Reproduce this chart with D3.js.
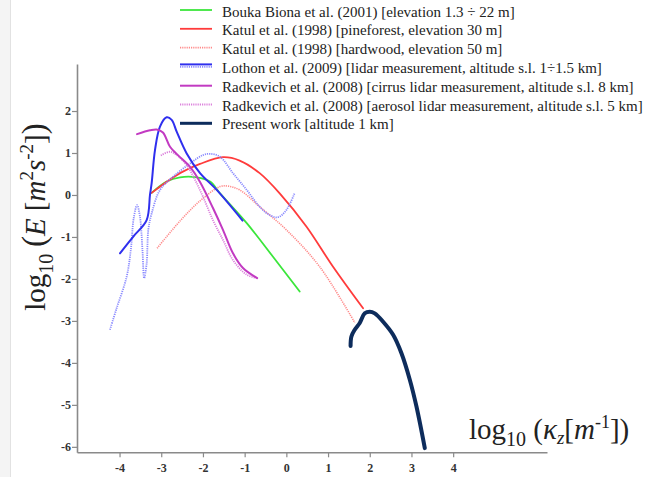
<!DOCTYPE html>
<html><head><meta charset="utf-8">
<script src="https://cdn.jsdelivr.net/npm/d3@7"></script>
<style>
html,body{margin:0;padding:0;background:#fff;}
svg{display:block;}
</style>
</head><body>
<svg id="chart" width="645" height="477"></svg>
<script>
// ---- data (log10 kz, log10 E) ----
const xTicks = [-4,-3,-2,-1,0,1,2,3,4];
const yTicks = [2,1,0,-1,-2,-3,-4,-5,-6];

const boukaX = [-3.23,-2.87,-2.55,-2.15,-1.83,-1.59,-0.95,-0.32,0.32];
const boukaY = [0.05,0.32,0.42,0.42,0.32,0.04,-0.67,-1.47,-2.30];

const katulPineX = [-3.23,-2.55,-2.07,-1.52,-1.12,-0.64,-0.16,0.48,1.12,1.84];
const katulPineY = [0.05,0.52,0.74,0.90,0.82,0.52,0.04,-0.75,-1.71,-2.70];

const katulHardX = [-3.10,-2.55,-2.07,-1.59,-1.40,-1.12,-0.64,0.00,0.80,1.64];
const katulHardY = [-1.27,-0.62,-0.14,0.20,0.21,0.12,-0.28,-0.83,-1.71,-3.04];

const lothonSolidX = [-3.99,-3.67,-3.35,-3.27,-3.23,-3.15,-3.03,-2.87,-2.75,-2.63,-2.39,-2.07,-1.67,-1.05];
const lothonSolidY = [-1.39,-0.99,-0.60,0.00,0.28,1.07,1.63,1.85,1.79,1.51,0.99,0.52,0.12,-0.61];

const lothonDotX = [-4.23,-4.07,-3.83,-3.73,-3.66,-3.58,-3.51,-3.45,-3.41,-3.35,-3.31,-3.23,-3.03,-2.71,-2.31,-2.00,-1.83,-1.59,-1.28,-0.95,-0.64,-0.40,-0.20,0.00,0.20];
const lothonDotY = [-3.21,-2.70,-1.95,-1.31,-0.55,-0.24,-0.52,-1.31,-1.98,-1.63,-0.83,-0.44,0.12,0.44,0.75,0.95,0.98,0.91,0.52,0.12,-0.28,-0.48,-0.53,-0.36,0.05];

const radCirrusX = [-3.58,-3.27,-3.11,-2.96,-2.79,-2.60,-2.31,-2.07,-1.76,-1.52,-1.28,-1.04,-0.70];
const radCirrusY = [1.45,1.54,1.56,1.49,1.15,0.95,0.67,0.31,-0.31,-0.83,-1.39,-1.74,-1.98];

const radAerosolX = [-3.01,-2.79,-2.63,-2.39,-2.19,-2.00,-1.76,-1.52,-1.28,-0.95,-0.71];
const radAerosolY = [0.94,1.03,0.95,0.71,0.36,-0.04,-0.60,-1.07,-1.55,-1.90,-1.98];

const presentX = [1.54,1.56,1.64,1.76,1.88,2.00,2.12,2.32,2.56,2.76,2.96,3.12,3.32];
const presentY = [-3.60,-3.37,-3.21,-3.05,-2.82,-2.78,-2.82,-3.02,-3.33,-3.77,-4.40,-5.04,-6.03];

const legendLabels = [
  "Bouka Biona et al. (2001) [elevation 1.3 \u00f7 22 m]",
  "Katul et al. (1998) [pineforest, elevation 30 m]",
  "Katul et al. (1998) [hardwood, elevation 50 m]",
  "Lothon et al. (2009) [lidar measurement, altitude s.l. 1\u00f71.5 km]",
  "Radkevich et al. (2008) [cirrus lidar measurement, altitude s.l. 8 km]",
  "Radkevich et al. (2008) [aerosol lidar measurement, altitude s.l. 5 km]",
  "Present work [altitude 1 km]"
];

// ---- styles ----
const series = [
  {x: boukaX, y: boukaY, color:"#3be63b", w:1.8, dash:null},
  {x: katulPineX, y: katulPineY, color:"#ff3b3b", w:1.8, dash:null},
  {x: katulHardX, y: katulHardY, color:"#ff8a8a", w:1.6, dash:"1.2,1"},
  {x: lothonDotX, y: lothonDotY, color:"#8a8aff", w:1.8, dash:"1.2,1"},
  {x: lothonSolidX, y: lothonSolidY, color:"#2f2fee", w:2, dash:null},
  {x: radAerosolX, y: radAerosolY, color:"#dc82dc", w:1.8, dash:"1.2,1"},
  {x: radCirrusX, y: radCirrusY, color:"#c23ac2", w:2, dash:null},
  {x: presentX, y: presentY, color:"#0d2c5c", w:4, dash:null}
];

const svg = d3.select("#chart");
svg.append("rect").attr("x",0).attr("y",0).attr("width",10).attr("height",477).attr("fill","#f4f4f4");
svg.append("line").attr("x1",10.5).attr("x2",10.5).attr("y1",0).attr("y2",477).attr("stroke","#e2e2e2");

const xS = d3.scaleLinear().domain([-5.02, 6.25]).range([77, 547]);
const yS = d3.scaleLinear().domain([-6.13, 3.12]).range([452.3, 64]);

const axisColor = "#8a8a8a";
const serif = "'Liberation Serif', 'Times New Roman', serif";

const gx = svg.append("g").attr("transform", `translate(0,${yS.range()[0]})`)
  .call(d3.axisBottom(xS).tickValues(xTicks).tickSize(5).tickSizeOuter(0).tickFormat(d3.format("d")));
const gy = svg.append("g").attr("transform", `translate(${xS.range()[0]},0)`)
  .call(d3.axisLeft(yS).tickValues(yTicks).tickSize(5).tickSizeOuter(0).tickFormat(d3.format("d")));
[gx, gy].forEach(g => {
  g.attr("font-family", serif);
  g.select(".domain").attr("stroke", axisColor).attr("stroke-width", 1.6);
  g.selectAll(".tick line").attr("stroke", axisColor).attr("stroke-width", 1.2);
  g.selectAll(".tick text").attr("fill","#333").attr("font-family", serif)
    .attr("font-size", 12).attr("font-weight","bold").text(d => d < 0 ? "-" + Math.abs(d) : d);
});
gx.selectAll(".tick text").attr("dy","0.95em");
gy.selectAll(".tick text").attr("x", -6);

// ---- curves ----
const line = d3.line().x(d => xS(d[0])).y(d => yS(d[1])).curve(d3.curveCatmullRom.alpha(0.5));
series.forEach(s => {
  const pts = s.x.map((v,i) => [v, s.y[i]]);
  svg.append("path").attr("d", line(pts)).attr("fill","none")
    .attr("stroke", s.color).attr("stroke-width", s.w)
    .attr("stroke-dasharray", s.dash).attr("stroke-linecap", s.dash ? "butt" : "round")
    .attr("stroke-linejoin","round");
});

// ---- legend ----
const legX0 = 180, legX1 = 212, legTextX = 222, legY0 = 11.5, legDY = 18.8;
const leg = svg.append("g");
legendLabels.forEach((lab, i) => {
  const cy = legY0 + i * legDY;
  leg.append("text").attr("x", legTextX).attr("y", cy + 5).text(lab)
    .attr("font-family", serif).attr("font-size", 15).attr("fill", "#222");
});
const sampleRows = [
  {row:0, s:0, off:-1.5},
  {row:1, s:1, off:-1.5},
  {row:2, s:2, off:-1.5},
  {row:3, s:4, off:-3.5},
  {row:3, s:3, off:-1},
  {row:4, s:6, off:-1},
  {row:5, s:5, off:-1},
  {row:6, s:7, off:-1}
];
sampleRows.forEach(r => {
  const s = series[r.s];
  const y = legY0 + r.row * legDY + r.off;
  leg.append("line").attr("x1", legX0).attr("x2", legX1).attr("y1", y).attr("y2", y)
    .attr("stroke", s.color).attr("stroke-width", Math.min(s.w, 3)).attr("stroke-dasharray", s.dash);
});

// ---- axis titles ----
const yt = svg.append("text").attr("transform","translate(45,217) rotate(-90)")
  .attr("text-anchor","middle").attr("font-family", serif).attr("font-size", 29).attr("fill","#222");
yt.append("tspan").text("log");
yt.append("tspan").attr("font-size", 20).attr("dy", 8).text("10");
yt.append("tspan").attr("dy", -8).attr("font-size", 33).text("\u2009(");
yt.append("tspan").attr("font-style","italic").text("E");
yt.append("tspan").text(" [");
yt.append("tspan").attr("font-style","italic").text("m");
yt.append("tspan").attr("font-size", 19).attr("dy", -12).text("2");
yt.append("tspan").attr("font-style","italic").attr("dy", 12).text("s");
yt.append("tspan").attr("font-size", 19).attr("dy", -12).text("-2");
yt.append("tspan").attr("dy", 12).text("]");
yt.append("tspan").attr("font-size", 33).text(")");

const xt = svg.append("text").attr("x", 469).attr("y", 439)
  .attr("font-family", serif).attr("font-size", 29).attr("fill","#222");
xt.append("tspan").text("log");
xt.append("tspan").attr("font-size", 20).attr("dy", 7).text("10");
xt.append("tspan").attr("dy", -7).text(" (");
xt.append("tspan").attr("font-style","italic").text("\u03ba");
xt.append("tspan").attr("font-style","italic").attr("font-size", 19).attr("dy", 5).text("z");
xt.append("tspan").attr("dy", -5).text("[");
xt.append("tspan").attr("font-style","italic").text("m");
xt.append("tspan").attr("font-size", 18).attr("dy", -11).text("-1");
xt.append("tspan").attr("dy", 11).text("])");
</script>
</body></html>
